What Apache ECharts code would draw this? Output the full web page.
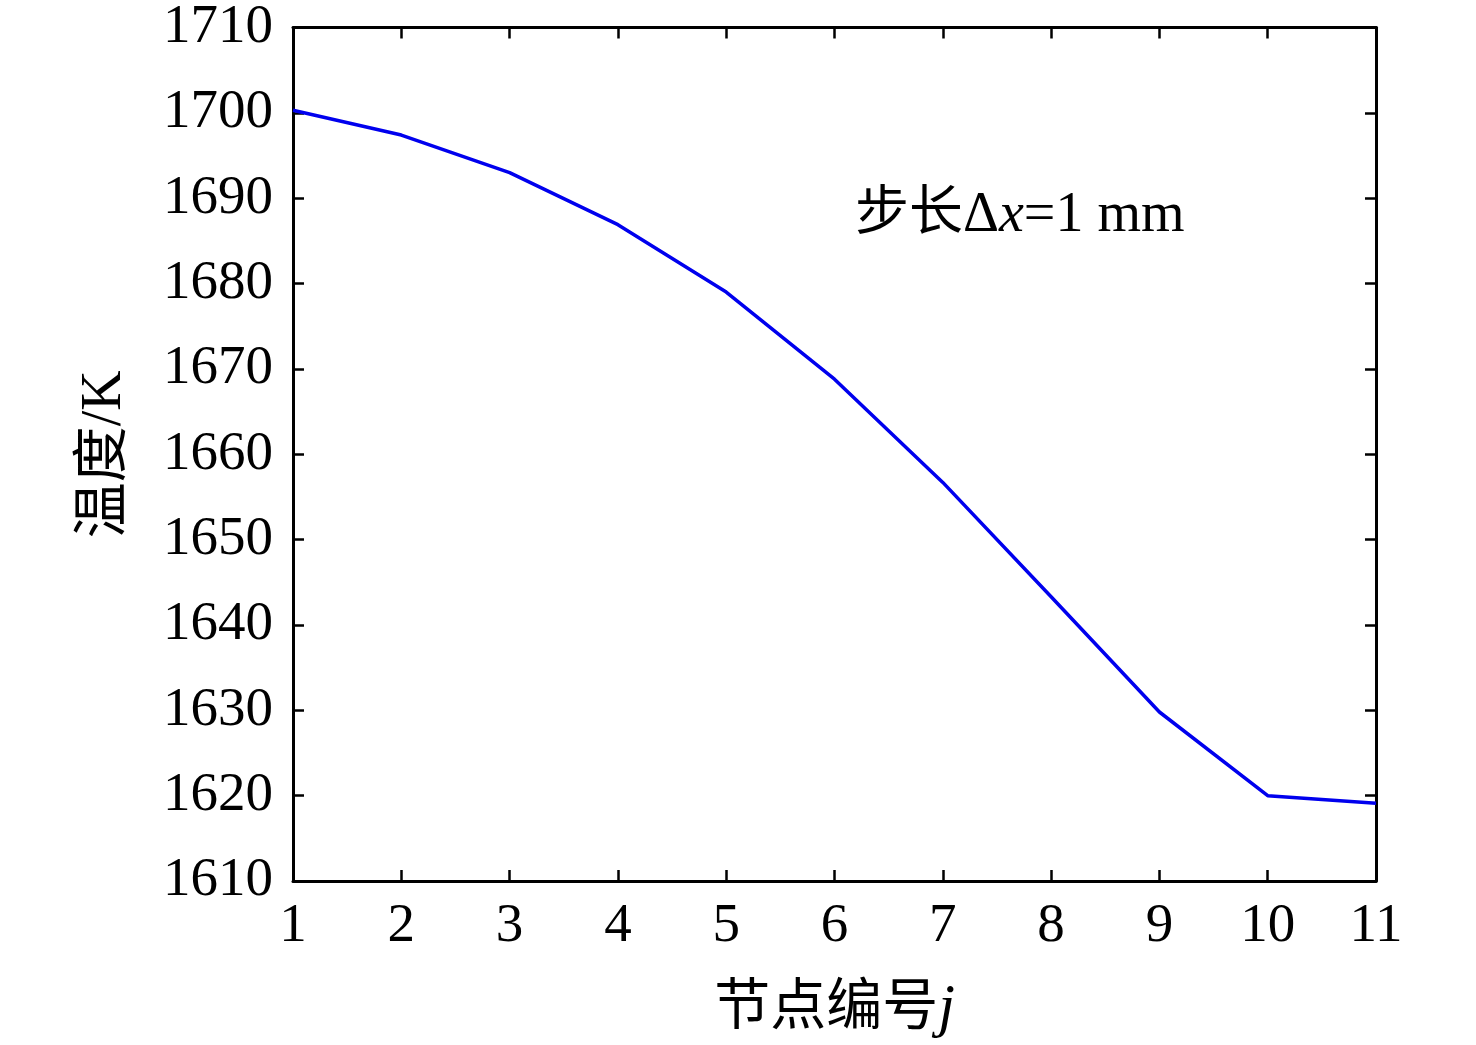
<!DOCTYPE html>
<html>
<head>
<meta charset="utf-8">
<title>节点温度分布</title>
<script src="https://cdn.jsdelivr.net/npm/echarts@6/dist/echarts.min.js"></script>
<style>
  html, body { margin: 0; padding: 0; background: #fff; }
  #chart { width: 1476px; height: 1045px; }
</style>
</head>
<body>
<div id="chart"></div>
<script>
// node index j and temperature (K)
const nodes = [1, 2, 3, 4, 5, 6, 7, 8, 9, 10, 11];
const temps = [1700.3, 1697.4, 1693.0, 1686.9, 1679.0, 1668.8, 1656.7, 1643.3, 1629.8, 1620.0, 1619.1];

const xRange = [1, 11];
const yRange = [1610, 1710];

const FONT = '"Liberation Serif", "Noto Sans CJK SC", serif';

const chart = echarts.init(document.getElementById('chart'));

const tickStyle = { show: true, inside: true, length: 11, lineStyle: { color: '#000', width: 2.5 } };
const lineStyle = { show: true, lineStyle: { color: '#000', width: 3 } };

const option = {
  animation: false,
  backgroundColor: '#fff',
  grid: { left: 293, right: 100, top: 27, bottom: 164 },
  xAxis: [
    {
      type: 'value',
      min: xRange[0], max: xRange[1], interval: 1,
      axisLine: lineStyle,
      axisTick: tickStyle,
      splitLine: { show: false },
      axisLabel: { color: '#000', fontFamily: FONT, fontSize: 55, margin: 18 },
      name: '{c|节点编号}{i|j}',
      nameLocation: 'middle',
      nameGap: 98,
      nameTextStyle: {
        rich: {
          c: { fontFamily: FONT, fontSize: 56, color: '#000' },
          i: { fontFamily: FONT, fontSize: 60, fontStyle: 'italic', color: '#000' }
        }
      }
    },
    {
      type: 'value', position: 'top',
      min: xRange[0], max: xRange[1], interval: 1,
      axisLine: lineStyle, axisTick: tickStyle,
      axisLabel: { show: false }, splitLine: { show: false }
    }
  ],
  yAxis: [
    {
      type: 'value',
      min: yRange[0], max: yRange[1], interval: 10,
      axisLine: lineStyle,
      axisTick: tickStyle,
      splitLine: { show: false },
      axisLabel: {
        color: '#000', fontFamily: FONT, fontSize: 55, margin: 20,
        formatter: (v) => String(v)
      },
      name: '温度/K',
      nameLocation: 'middle',
      nameGap: 160,
      nameRotate: 90,
      nameTextStyle: { fontFamily: FONT, fontSize: 56, color: '#000' }
    },
    {
      type: 'value', position: 'right',
      min: yRange[0], max: yRange[1], interval: 10,
      axisLine: lineStyle, axisTick: tickStyle,
      axisLabel: { show: false }, splitLine: { show: false }
    }
  ],
  series: [
    {
      type: 'line',
      data: nodes.map((n, i) => [n, temps[i]]),
      showSymbol: false,
      lineStyle: { color: '#0000ee', width: 3.5 },
      clip: true
    }
  ],
  graphic: [
    {
      type: 'text',
      left: 855,
      top: 188,
      style: {
        text: '{c|步长}{n|Δ}{i|x}{n|=1 mm}',
        rich: {
          c: { fontFamily: FONT, fontSize: 54, fill: '#000' },
          n: { fontFamily: FONT, fontSize: 56, fill: '#000' },
          i: { fontFamily: FONT, fontSize: 56, fontStyle: 'italic', fill: '#000' }
        }
      }
    }
  ]
};

chart.setOption(option);
</script>
</body>
</html>
